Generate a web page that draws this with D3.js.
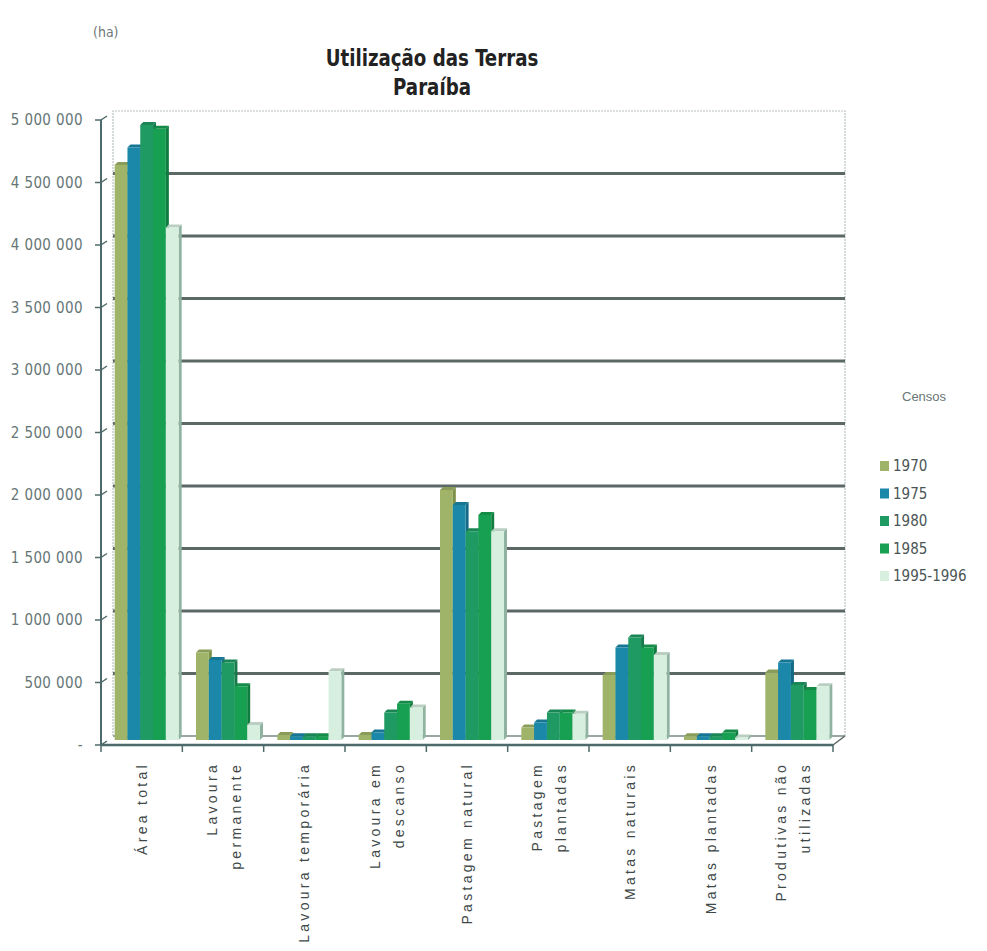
<!DOCTYPE html>
<html>
<head>
<meta charset="utf-8">
<script src="https://cdn.jsdelivr.net/npm/d3@7.9.0/dist/d3.min.js"></script>
<style>
  body { margin: 0; background: #fff; }
  svg { display: block; }
</style>
</head>
<body>
<svg id="chart" width="987" height="951"></svg>
<script>
// categories (label lines) and census series, values in hectares
const categories = [
  ['Área total'],
  ['Lavoura', 'permanente'],
  ['Lavoura temporária'],
  ['Lavoura em', 'descanso'],
  ['Pastagem natural'],
  ['Pastagem', 'plantadas'],
  ['Matas naturais'],
  ['Matas plantadas'],
  ['Produtivas não', 'utilizadas']
];
const censos = ['1970', '1975', '1980', '1985', '1995-1996'];
const v1970 = [4600000, 700000, 40000, 40000, 2000000, 100000, 520000, 30000, 540000];
const v1975 = [4740000, 640000, 30000, 60000, 1880000, 140000, 740000, 30000, 620000];
const v1980 = [4920000, 620000, 30000, 220000, 1670000, 220000, 820000, 30000, 440000];
const v1985 = [4890000, 430000, 30000, 290000, 1800000, 220000, 740000, 60000, 400000];
const v1995 = [4100000, 120000, 550000, 260000, 1670000, 210000, 680000, 20000, 430000];
const yTicks = [0, 500000, 1000000, 1500000, 2000000, 2500000, 3000000, 3500000, 4000000, 4500000, 5000000];

const series = [v1970, v1975, v1980, v1985, v1995];
const colors = ['#9fb468', '#1b88aa', '#1f9a62', '#17a052', '#d6efdf'];
const sides = ['#7d9048', '#146a86', '#17784c', '#117c3f', '#8fb3a0'];

const svg = d3.select('#chart');
const narrow = '"Liberation Sans Narrow", "DejaVu Sans Condensed", "Liberation Sans", sans-serif';

// front axis and back wall scales (3D look)
const x0 = d3.scaleBand().domain(d3.range(categories.length)).range([101, 833]);
const x1 = d3.scaleBand().domain(d3.range(censos.length)).range([0, 64]);
const yFront = d3.scaleLinear().domain([0, 5000000]).range([745, 120]);
const yBack = d3.scaleLinear().domain([0, 5000000]).range([736, 111]);
const yBar = d3.scaleLinear().domain([0, 5000000]).range([740, 115]);
const backL = 113, backR = 845;

// back wall frame
svg.append('path')
  .attr('d', `M${backL},${yBack(0)}V${yBack(5000000)}H${backR}V${yBack(0)}`)
  .attr('fill', 'none').attr('stroke', '#b8c0c0').attr('stroke-width', 1.2)
  .attr('stroke-dasharray', '2,1');

// gridlines
svg.append('g').selectAll('line')
  .data(yTicks.filter(d => d > 0 && d < 5000000))
  .join('line')
  .attr('x1', backL).attr('x2', backR)
  .attr('y1', d => yBack(d)).attr('y2', d => yBack(d))
  .attr('stroke', '#5c6866').attr('stroke-width', 3);

// floor back edge
svg.append('line')
  .attr('x1', backL).attr('x2', backR)
  .attr('y1', yBack(0)).attr('y2', yBack(0))
  .attr('stroke', '#9aa6a4').attr('stroke-width', 2);
svg.append('line')
  .attr('x1', 833).attr('x2', backR)
  .attr('y1', yFront(0)).attr('y2', yBack(0))
  .attr('stroke', '#5c6866').attr('stroke-width', 1.5);

// bars
const depth = 3;
series.forEach((vals, s) => {
  const g = svg.append('g');
  vals.forEach((v, i) => {
    const x = x0(i) + x0.bandwidth() / 2 - 32 + 5 + x1(s);
    const w = x1.bandwidth();
    const yt = yBar(v), yb = yBar(0);
    g.append('path')
      .attr('d', `M${x + w},${yt}L${x + w + depth},${yt - depth}V${yb - depth}L${x + w},${yb}Z`)
      .attr('fill', sides[s]);
    g.append('path')
      .attr('d', `M${x},${yt}L${x + depth},${yt - depth}H${x + w + depth}L${x + w},${yt}Z`)
      .attr('fill', d3.color(colors[s]).darker(0.4));
    g.append('rect')
      .attr('x', x).attr('y', yt)
      .attr('width', w).attr('height', yb - yt)
      .attr('fill', colors[s]);
  });
});

// y axis
svg.append('line')
  .attr('x1', 101).attr('x2', 101)
  .attr('y1', yFront(5000000)).attr('y2', yFront(0))
  .attr('stroke', '#4e6a6a').attr('stroke-width', 2);
const yt = svg.append('g').selectAll('g').data(yTicks).join('g');
yt.append('line')
  .attr('x1', 95).attr('x2', 101)
  .attr('y1', d => yFront(d)).attr('y2', d => yFront(d))
  .attr('stroke', '#4e6a6a').attr('stroke-width', 1.5);
yt.append('line')
  .attr('x1', 101).attr('x2', 107)
  .attr('y1', d => yFront(d)).attr('y2', d => yFront(d) - 4)
  .attr('stroke', '#4e6a6a').attr('stroke-width', 1.5);
const fmt = d3.formatLocale({ decimal: ',', thousands: ' ', grouping: [3], currency: ['', ''] }).format(',d');
yt.append('text')
  .attr('x', 83).attr('y', d => yFront(d))
  .attr('dy', '0.35em').attr('text-anchor', 'end')
  .attr('font-family', narrow).attr('font-size', 15)
  .attr('letter-spacing', 0.4)
  .attr('fill', '#667676')
  .text(d => d === 0 ? '-' : fmt(d));

// x axis
svg.append('line')
  .attr('x1', 101).attr('x2', 833)
  .attr('y1', yFront(0)).attr('y2', yFront(0))
  .attr('stroke', '#4e6a6a').attr('stroke-width', 2.5);
svg.append('g').selectAll('line')
  .data(d3.range(categories.length + 1))
  .join('line')
  .attr('x1', i => 101 + i * x0.bandwidth()).attr('x2', i => 101 + i * x0.bandwidth())
  .attr('y1', yFront(0)).attr('y2', yFront(0) + 7)
  .attr('stroke', '#4e6a6a').attr('stroke-width', 1.5);

// category labels, rotated
categories.forEach((lines, i) => {
  const cx = x0(i) + x0.bandwidth() / 2;
  lines.forEach((t, k) => {
    const lx = cx + (lines.length === 1 ? 0 : (k === 0 ? -11 : 13));
    svg.append('text')
      .attr('transform', `translate(${lx},762) rotate(-90)`)
      .attr('text-anchor', 'end').attr('dy', '0.35em')
      .attr('font-family', '"Liberation Sans", Arial, sans-serif')
      .attr('font-size', 14).attr('letter-spacing', 3.3)
      .attr('fill', '#404848')
      .text(t);
  });
});

// titles (condensed look)
[['Utilização das Terras', 66], ['Paraíba', 95]].forEach(([t, y]) => {
  svg.append('text')
    .attr('transform', `translate(432,${y}) scale(0.88,1)`)
    .attr('text-anchor', 'middle')
    .attr('font-family', narrow).attr('font-weight', 'bold').attr('font-size', 23)
    .attr('fill', '#222').text(t);
});
svg.append('text')
  .attr('x', 93).attr('y', 37)
  .attr('font-family', narrow).attr('font-size', 14)
  .attr('fill', '#707878').text('(ha)');

// legend
svg.append('text')
  .attr('x', 902).attr('y', 401)
  .attr('font-family', '"Liberation Sans", Arial, sans-serif').attr('font-size', 13)
  .attr('fill', '#6a7676').text('Censos');
const lg = svg.append('g').selectAll('g').data(censos).join('g')
  .attr('transform', (d, i) => `translate(880,${466 + i * 27.5})`);
lg.append('rect')
  .attr('x', 0).attr('y', -5).attr('width', 9).attr('height', 10)
  .attr('fill', (d, i) => colors[i]);
lg.append('text')
  .attr('x', 13).attr('dy', '0.35em')
  .attr('font-family', narrow).attr('font-size', 15)
  .attr('fill', '#4a5454').text(d => d);
</script>
</body>
</html>
